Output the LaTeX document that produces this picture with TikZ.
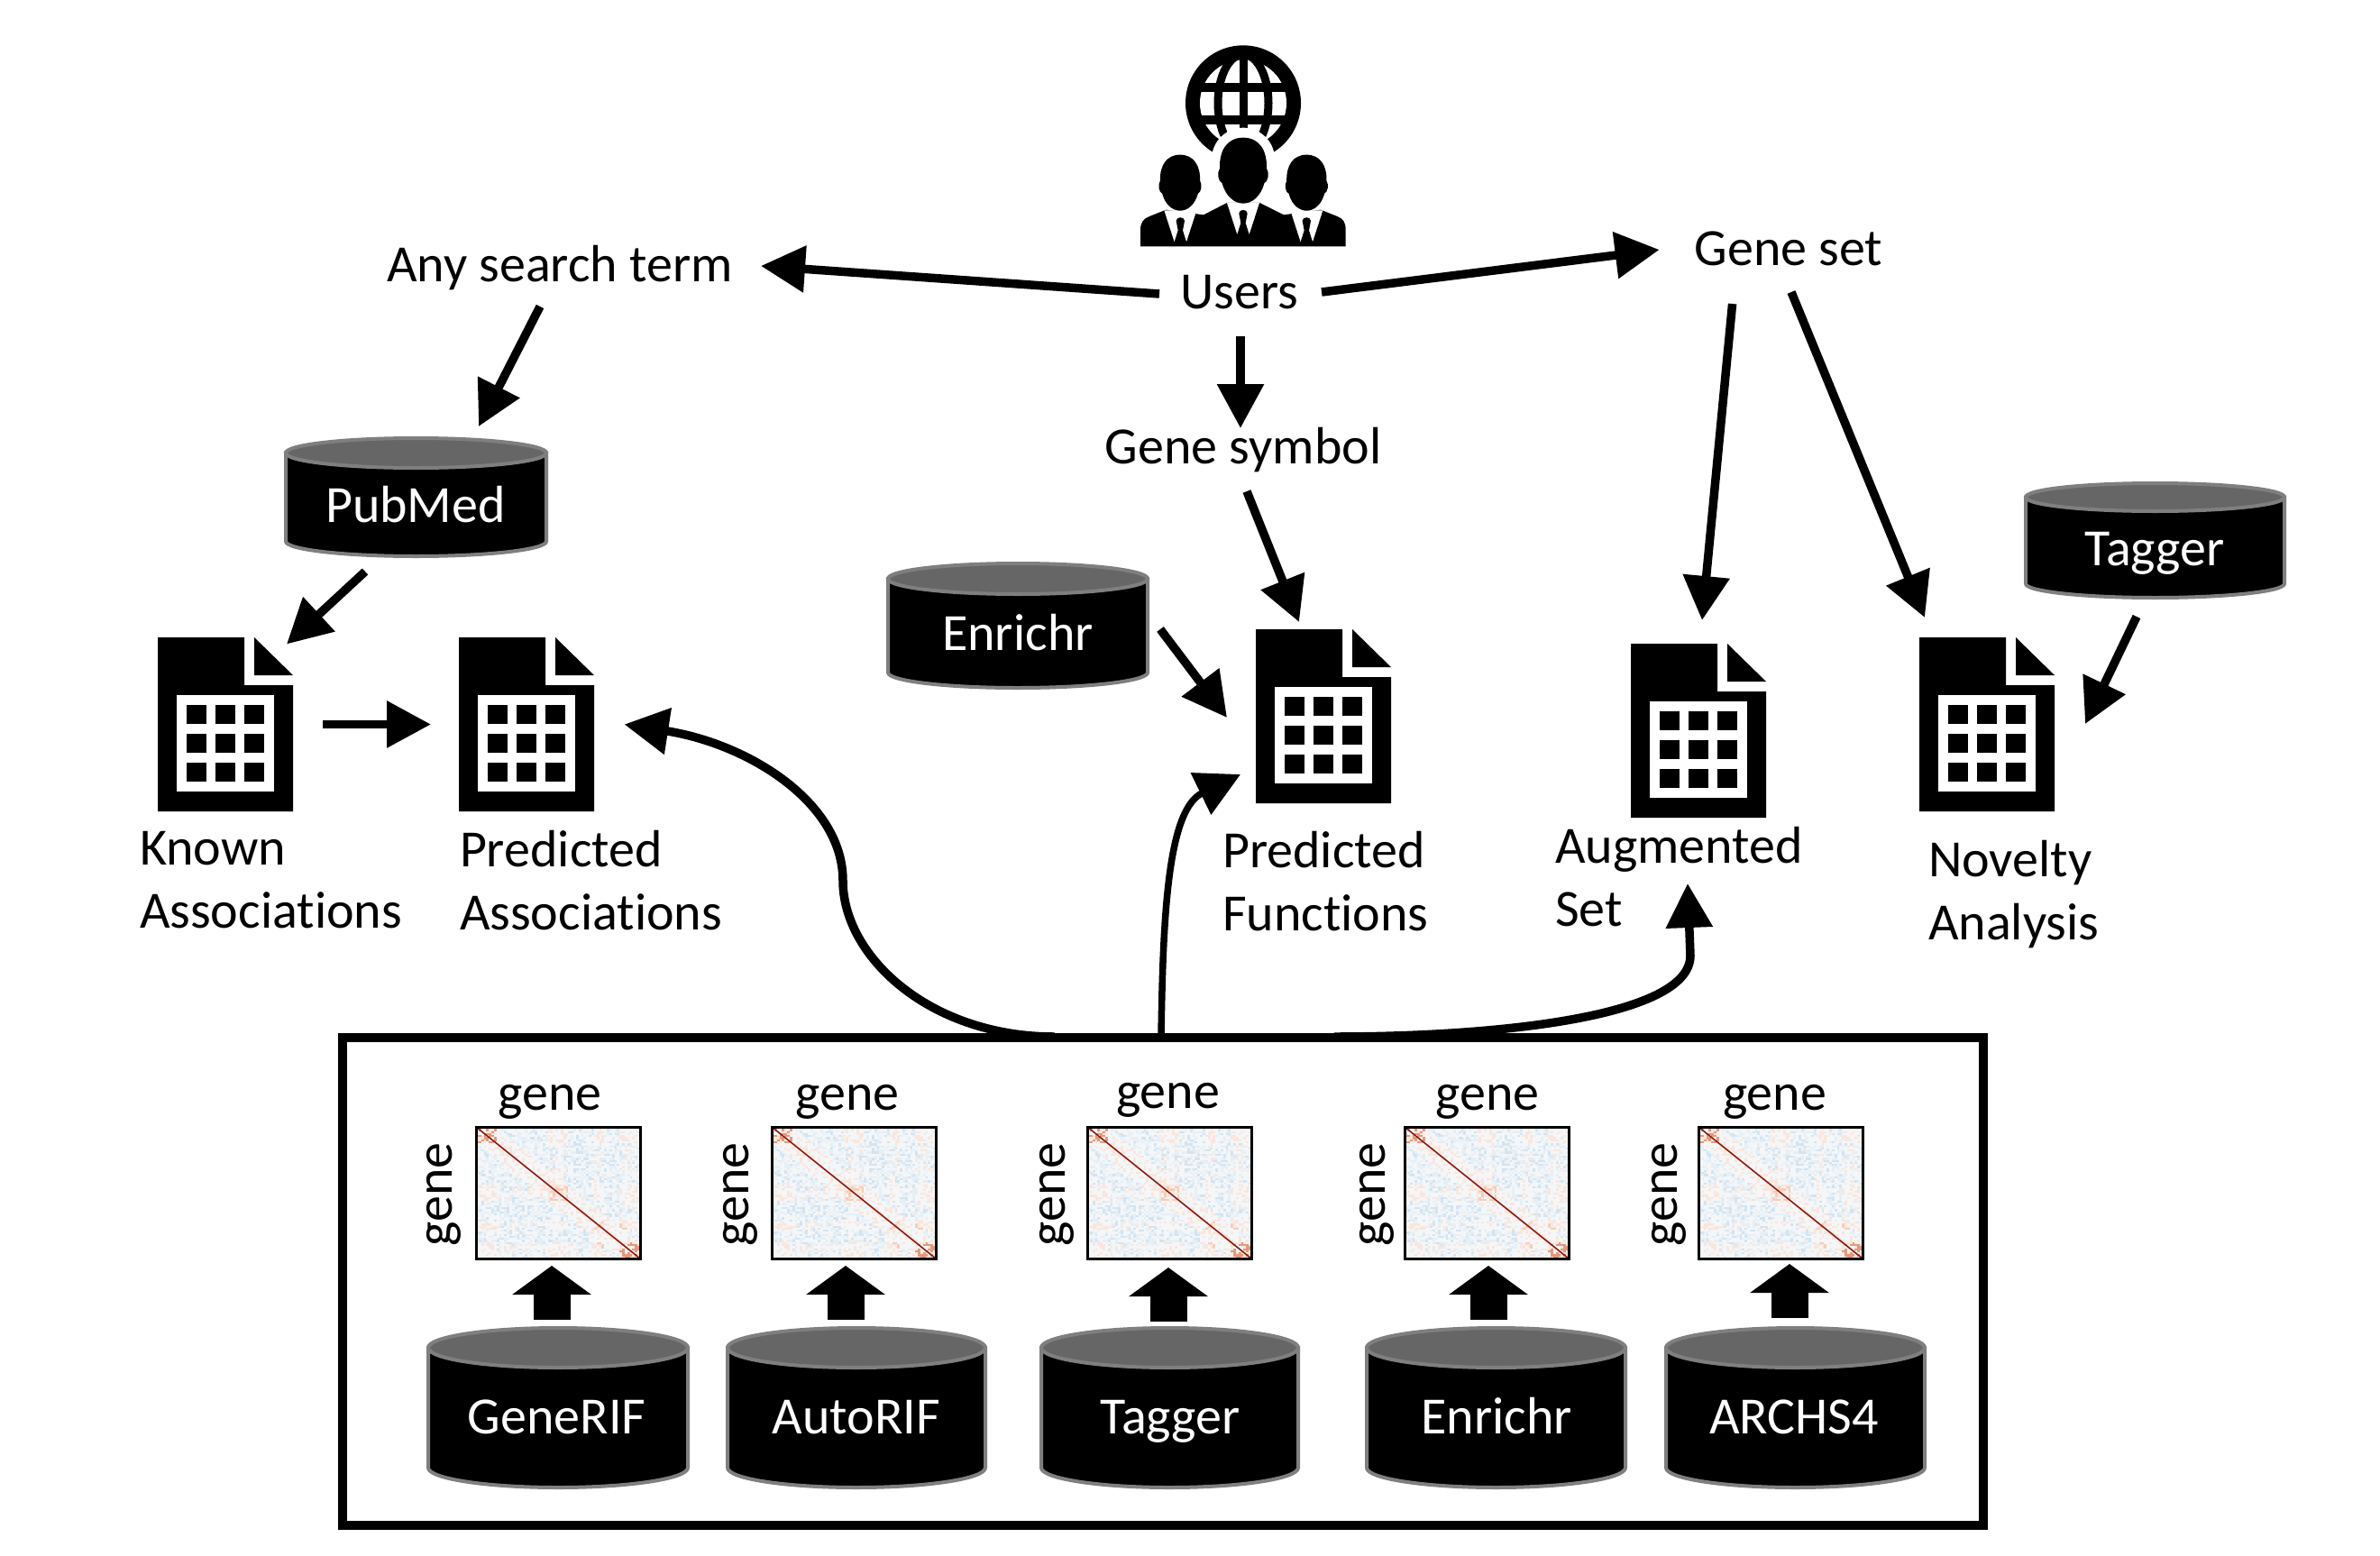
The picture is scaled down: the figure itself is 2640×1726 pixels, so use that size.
\documentclass[tikz,border=0pt]{standalone}
\usepackage{fontspec}
\setmainfont[Ligatures={NoCommon}]{Carlito}
\usetikzlibrary{arrows.meta}
\definecolor{dbedge}{HTML}{7F7F7F}
\definecolor{dbtop}{HTML}{666666}
\definecolor{hmbg}{HTML}{F4F6F8}
\definecolor{hmorS}{HTML}{E39A7C}
\definecolor{hmorA}{HTML}{F7CDB8}
\definecolor{hmorB}{HTML}{FAE6DC}
\definecolor{hmblA}{HTML}{D3E4F1}
\definecolor{hmblB}{HTML}{E6EFF6}
\definecolor{hmdiag}{HTML}{8C1C13}
\tikzset{
  lbl/.style={anchor=base,inner sep=0pt,outer sep=0pt,font=\fontsize{58}{70}\selectfont},
  lblleft/.style={lbl,anchor=base west,align=left},
  dbtext/.style={lbl,text=white},
  arr/.style={line width=9.5pt,-{Triangle[length=49pt,width=50pt]}},
  curvearr/.style={arr,line width=9.5pt},
  thincurve/.style={arr,line width=7.5pt},
  blockarr/.style={line width=41pt,-{Triangle[length=32pt,width=86pt]}},
  heatbox/.style={draw=black,line width=3pt,minimum width=182pt,minimum height=146pt,inner sep=0pt,outer sep=0pt},
  anchorbox/.style={inner sep=0pt,outer sep=0pt,minimum width=150pt,minimum height=193pt}
}
\newcommand{\dbnode}[9]{%
  \pgfmathsetmacro{\dbrx}{(#3-#2)/2-2}
  \pgfmathsetmacro{\dbry}{(#5-#4)/2-2}
  \pgfmathsetmacro{\dbcx}{(#3+#2)/2}
  \pgfmathsetmacro{\dbcy}{(#5+#4)/2}
  \pgfmathsetmacro{\dblow}{#6-\dbry-2}
  \draw[dbedge,line width=4pt,fill=black] (#2+2,\dbcy) -- (#2+2,\dblow) arc[start angle=180,end angle=360,x radius=\dbrx pt,y radius=\dbry pt] -- (#3-2,\dbcy) -- cycle;
  \draw[dbedge,line width=4pt,fill=dbtop] (\dbcx,\dbcy) ellipse[x radius=\dbrx pt,y radius=\dbry pt];
  \node[dbtext] (#1) at (#8,#9) {#7};
}
\newcommand{\docicon}[3]{%
  \begin{scope}[shift={(#2,#3)}]
    \fill[black] (0,0) -- (96,0) -- (96,53) -- (150,53) -- (150,193) -- (0,193) -- cycle;
    \fill[black] (107,0) -- (107,42) -- (150,42) -- cycle;
    \fill[white] (21,64) rectangle (129,171);
    \foreach \dx in {32,64,96}{\foreach \dy in {75,107,139}{\fill[black] (\dx,\dy) rectangle ++(22,21);}}
    \node[anchorbox] (#1) at (75,96.5) {};
  \end{scope}
}
\newcommand{\hmorange}[1]{\ifnum#1<8 1\else\ifnum#1<28 0\else\ifnum#1<36 1\else\ifnum#1<46 0\else\ifnum#1<50 1\else\ifnum#1<56 0\else 1\fi\fi\fi\fi\fi\fi}
\def\hmn{none}
\newcommand{\hmcell}[2]{%
  \pgfmathrandominteger{\hmr}{0}{99}%
  \pgfmathtruncatemacro{\hmd}{abs(#1-#2)}%
  \def\hmc{none}%
  \ifnum\hmorange{#1}=1 \ifnum\hmorange{#2}=1 \ifnum\hmd<10
    \ifnum\hmr<40 \def\hmc{hmorA}\else\ifnum\hmr<75 \def\hmc{hmorB}\fi\fi
    \ifnum#1<8 \ifnum#2<8 \ifnum\hmr<45 \def\hmc{hmorS}\fi\fi\fi
    \ifnum#1>55 \ifnum#2>55 \ifnum\hmr<45 \def\hmc{hmorS}\fi\fi\fi
  \fi\fi\fi
  \ifx\hmc\hmn
    \ifnum\hmd>7
      \ifnum\hmorange{#1}=0
        \ifnum\hmr<16 \def\hmc{hmblA}\else\ifnum\hmr<50 \def\hmc{hmblB}\fi\fi
      \else\ifnum\hmorange{#2}=0
        \ifnum\hmr<12 \def\hmc{hmblA}\else\ifnum\hmr<38 \def\hmc{hmblB}\else\ifnum\hmr<50 \def\hmc{hmorB}\fi\fi\fi
      \else
        \ifnum\hmr<30 \def\hmc{hmorB}\fi
      \fi\fi
    \else
      \ifnum\hmr<30 \def\hmc{hmorB}\fi
    \fi
  \fi
  \ifx\hmc\hmn\else
    \fill[\hmc] (#1,#2) rectangle ++(1,1);
    \fill[\hmc] (#2,#1) rectangle ++(1,1);
  \fi
}
\newcommand{\heatmap}[3]{%
  \pgfmathsetseed{4217}%
  \begin{scope}[shift={(#2-91,#3-73)},x=2.84375pt,y=-2.28125pt]
    \fill[hmbg] (0,0) rectangle (64,64);
    \foreach \hi in {0,...,63}{\foreach \hj in {0,...,\hi}{\hmcell{\hi}{\hj}}}
    \draw[hmdiag,line width=1.6pt] (0,0) -- (64,64);
  \end{scope}
  \node[heatbox] (#1) at (#2,#3) {};
}
\newcommand{\headshape}[3]{%
  \begin{scope}[shift={(#1,#2)},scale=#3]
    \fill[black] (0,0) .. controls (53,0) and (80,42) .. (78,102) .. controls (88,117) and (83,147) .. (70,152)
      .. controls (58,197) and (28,219) .. (0,219) .. controls (-28,219) and (-58,197) .. (-70,152)
      .. controls (-83,147) and (-88,117) .. (-78,102) .. controls (-80,42) and (-53,0) .. (0,0) -- cycle;
  \end{scope}
}
\newcommand{\collar}[1]{%
  \begin{scope}[shift={(#1,0)}]
    \fill[white] (-54,615) -- (-20,720) -- (-8,695) -- (8,695) -- (20,720) -- (54,615) -- cycle;
    \fill[black] (-14,650) .. controls (-14,635) and (14,635) .. (14,650) -- (8,682) -- (20,720) -- (-20,720) -- (-8,682) -- cycle;
  \end{scope}
}
\begin{document}
\begin{tikzpicture}[x=1pt,y=-1pt]
\useasboundingbox (0,0) rectangle (2640,1726);
% --- users icon
\begin{scope}[shift={(1200,20)},x=0.33333pt,y=-0.33333pt]
  \fill[black] (537,283) circle[radius=64pt];
  \fill[white] (537,283) circle[radius=48pt];
  \begin{scope}
    \clip (537,283) circle[radius=50pt];
    \draw[black,line width=9pt] (537,130) -- (537,440);
    \draw[black,line width=10pt] (380,230) -- (700,230);
    \draw[black,line width=10pt] (380,340) -- (700,340);
    \draw[black,line width=9pt] (537,283) ellipse[x radius=28pt,y radius=54pt];
  \end{scope}
  \fill[white] (537,470) circle[radius=35pt];
  \fill[black] (195,760) -- (195,705) .. controls (195,680) and (205,668) .. (225,660) -- (280,638)
    -- (405,655) -- (483,615) -- (592,615) -- (672,655) -- (795,638) -- (850,660)
    .. controls (870,668) and (878,680) .. (878,705) -- (878,760) -- cycle;
  \collar{537}
  \begin{scope}[shift={(0,25)}]\collar{328}\collar{748}\end{scope}
  \headshape{537}{398}{1}
  \headshape{327}{455}{0.85}
  \headshape{748}{455}{0.85}
\end{scope}
% --- text labels
\node[lbl] (users) at (1375,342) {Users};
\node[lbl] (search) at (621,312) {Any search term};
\node[lbl] (geneset) at (1984,294) {Gene set};
\node[lbl] (symbol) at (1379,514) {Gene symbol};
\node[lblleft] (known) at (155,1029) {Known\\Associations};
\node[lblleft] (predassoc) at (510,1031) {Predicted\\Associations};
\node[lblleft] (predfunc) at (1356,1032) {Predicted\\Functions};
\node[lblleft] (augm) at (1725,1027) {Augmented\\Set};
\node[lblleft] (novel) at (2139,1042) {Novelty\\Analysis};
% --- databases
\dbnode{pubmed}{315}{608}{484}{521}{619}{PubMed}{461}{579}
\dbnode{enrichrtop}{983}{1275}{623}{661}{765}{Enrichr}{1129}{721}
\dbnode{taggertop}{2245}{2536}{534}{569}{665}{Tagger}{2390}{627}
\dbnode{dba}{473}{765}{1471}{1519}{1652}{GeneRIF}{617.5}{1590}
\dbnode{dbb}{805}{1095}{1471}{1519}{1652}{AutoRIF}{950}{1590}
\dbnode{dbc}{1153}{1442}{1471}{1519}{1652}{Tagger}{1298}{1590}
\dbnode{dbd}{1514}{1805}{1471}{1519}{1652}{Enrichr}{1660}{1590}
\dbnode{dbe}{1846}{2137}{1471}{1519}{1652}{ARCHS4}{1990}{1590}
% --- documents
\docicon{doca}{175}{707}
\docicon{docb}{509}{707}
\docicon{docc}{1393}{698}
\docicon{docd}{1809}{714}
\docicon{doce}{2129}{707}
% --- frame
\node[draw=black,line width=10pt,minimum width=1820pt,minimum height=540.5pt,inner sep=0pt,outer sep=0pt] (frame) at (1290,1421.25) {};
% --- heatmaps
\heatmap{heata}{619}{1323}
\heatmap{heatb}{947}{1323}
\heatmap{heatc}{1297}{1323}
\heatmap{heatd}{1649}{1323}
\heatmap{heate}{1975}{1323}
% --- gene labels
\node[lbl] (ga) at (610,1231) {gene};
\node[lbl] (gb) at (940,1231) {gene};
\node[lbl] (gc) at (1295.5,1229) {gene};
\node[lbl] (gd) at (1650,1231) {gene};
\node[lbl] (ge) at (1968.5,1231) {gene};
\node[lbl,rotate=90] (gf) at (501,1325) {gene};
\node[lbl,rotate=90] (gg) at (830.5,1325) {gene};
\node[lbl,rotate=90] (gh) at (1181.5,1325) {gene};
\node[lbl,rotate=90] (gi) at (1536,1325) {gene};
\node[lbl,rotate=90] (gj) at (1860.5,1325) {gene};
% --- straight arrows
\draw[arr] ([shift={(-89,-16)}]users.base) -- ([shift={(223,-17)}]search.base);
\draw[arr] ([shift={(91,-18)}]users.base) -- ([shift={(-143.4,-17)}]geneset.base);
\draw[arr] ([shift={(1,31)}]users.base) -- ([shift={(-3,-39)}]symbol.base);
\draw[arr] ([shift={(-22,28)}]search.base) -- ([shift={(70,-106)}]pubmed.base);
\draw[arr] ([shift={(-56,55)}]pubmed.base) -- ([shift={(68,-89)}]doca.center);
\draw[arr] ([shift={(108,0)}]doca.center) -- ([shift={(-106,0)}]docb.center);
\draw[arr] ([shift={(4,31)}]symbol.base) -- ([shift={(-27,-104.5)}]docc.center);
\draw[arr] ([shift={(158,-23)}]enrichrtop.base) -- ([shift={(-107,1.5)}]docc.center);
\draw[arr] ([shift={(-62.4,43)}]geneset.base) -- ([shift={(4,-122.5)}]docd.center);
\draw[arr] ([shift={(3,30)}]geneset.base) -- ([shift={(-69,-118.5)}]doce.center);
\draw[arr] ([shift={(-20,57)}]taggertop.base) -- ([shift={(109,-0.5)}]doce.center);
% --- curved arrows
\draw[curvearr] ([shift={(-120,-1)}]frame.north) .. controls (1030,1150) and (935,1060) .. (935,977)
   .. controls (935,890) and (830,825) .. ([shift={(108.5,0)}]docb.center);
\draw[thincurve] ([shift={(-2,-1)}]frame.north) .. controls (1290,1010) and (1296,898) .. ([shift={(-92,64.5)}]docc.center);
\draw[curvearr] ([shift={(190,-1)}]frame.north) .. controls (1650,1150) and (1875,1130) .. (1875,1060) -- ([shift={(147,-47)}]augm.base west);
% --- block arrows
\draw[blockarr] ([shift={(-5.5,-126)}]dba.base) -- ([shift={(-7,81)}]heata.center);
\draw[blockarr] ([shift={(-12,-126)}]dbb.base) -- ([shift={(-9,81)}]heatb.center);
\draw[blockarr] ([shift={(-2,-124)}]dbc.base) -- ([shift={(-1,83)}]heatc.center);
\draw[blockarr] ([shift={(-9,-126)}]dbd.base) -- ([shift={(2,81)}]heatd.center);
\draw[blockarr] ([shift={(-5,-128)}]dbe.base) -- ([shift={(10,79)}]heate.center);
\end{tikzpicture}
\end{document}
